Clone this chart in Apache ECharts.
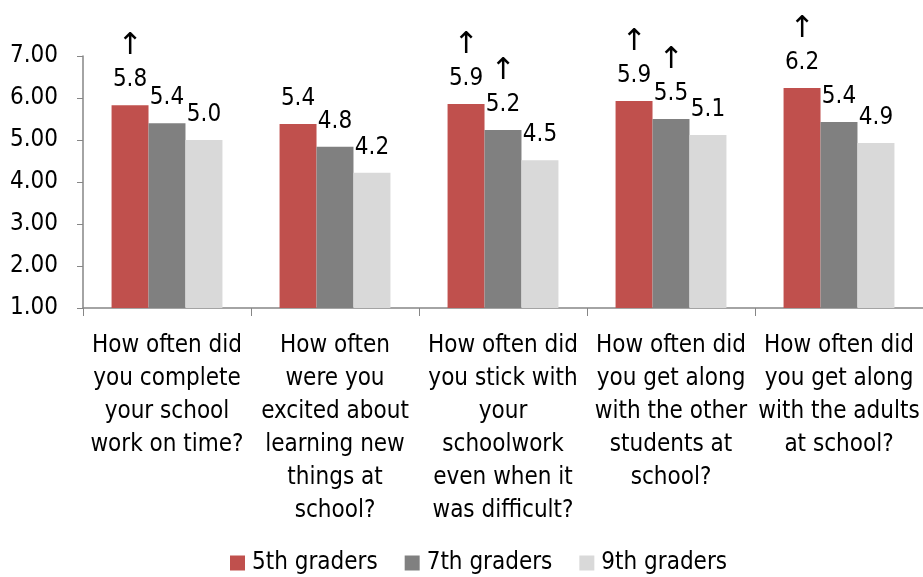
<!DOCTYPE html>
<html>
<head>
<meta charset="utf-8">
<script src="https://cdn.jsdelivr.net/npm/echarts@6/dist/echarts.min.js"></script>
<style>
  html, body { margin: 0; padding: 0; background: #fff; }
  #chart { width: 923px; height: 577px; }
</style>
</head>
<body>
<div id="chart"></div>
<script>
var categories = [
  'How often did\nyou complete\nyour school\nwork on time?',
  'How often\nwere you\nexcited about\nlearning new\nthings at\nschool?',
  'How often did\nyou stick with\nyour\nschoolwork\neven when it\nwas difficult?',
  'How often did\nyou get along\nwith the other\nstudents at\nschool?',
  'How often did\nyou get along\nwith the adults\nat school?'
]
var grade5 = [5.83, 5.38, 5.86, 5.93, 6.24]
var grade7 = [5.40, 4.84, 5.24, 5.50, 5.43]
var grade9 = [5.00, 4.22, 4.52, 5.12, 4.93]
// arrows shown above some labels
var up5 = [true, false, true, true, true]
var up7 = [false, false, true, true, false]
var up9 = [false, false, false, false, false]
var yTicks = ['1.00', '2.00', '3.00', '4.00', '5.00', '6.00', '7.00']

var font = "'Liberation Sans Narrow', 'DejaVu Sans Condensed', 'Open Sans', sans-serif"

function makeSeries(name, data, ups, color) {
  return {
    name: name,
    type: 'bar',
    data: data,
    barGap: 0,
    barCategoryGap: '34%',
    itemStyle: { color: color },
    label: {
      show: true,
      position: 'top',
      distance: 12,
      formatter: function (p) {
        var txt = '{v|' + p.value.toFixed(1) + '}'
        if (ups[p.dataIndex]) txt = '{a|↑}\n' + txt
        return txt
      },
      rich: {
        v: { fontSize: 24, fontFamily: font, color: '#000', lineHeight: 26 },
        a: { fontSize: 30, fontFamily: 'DejaVu Sans', color: '#000', lineHeight: 42 }
      }
    }
  }
}

var myChart = echarts.init(document.getElementById('chart'))
var option = {
  animation: false,
  textStyle: { fontFamily: font },
  grid: { left: 83, right: -2, top: 56, bottom: 269 },
  legend: {
    top: 546,
    left: 225,
    itemWidth: 15,
    itemHeight: 15,
    itemGap: 27,
    icon: 'rect',
    textStyle: { fontSize: 24, fontFamily: font, color: '#000', padding: [0, 0, 0, 2] },
    data: ['5th graders', '7th graders', '9th graders']
  },
  xAxis: {
    type: 'category',
    data: categories,
    axisLine: { lineStyle: { color: '#868686', width: 1.5 } },
    axisTick: { show: true, length: 8, lineStyle: { color: '#868686' } },
    axisLabel: {
      interval: 0,
      margin: 21,
      fontSize: 24,
      lineHeight: 33,
      color: '#000',
      fontFamily: font
    }
  },
  yAxis: {
    type: 'value',
    min: 1,
    max: 7,
    interval: 1,
    splitLine: { show: false },
    axisLine: { show: true, lineStyle: { color: '#868686', width: 1.5 } },
    axisTick: { show: true, length: 6, lineStyle: { color: '#868686' } },
    axisLabel: {
      fontSize: 24,
      color: '#000',
      margin: 25,
      fontFamily: font,
      formatter: function (v) { return yTicks[Math.round(v) - 1] }
    }
  },
  series: [
    makeSeries('5th graders', grade5, up5, '#C0504D'),
    makeSeries('7th graders', grade7, up7, '#808080'),
    makeSeries('9th graders', grade9, up9, '#D9D9D9')
  ]
}
myChart.setOption(option)
</script>
</body>
</html>
